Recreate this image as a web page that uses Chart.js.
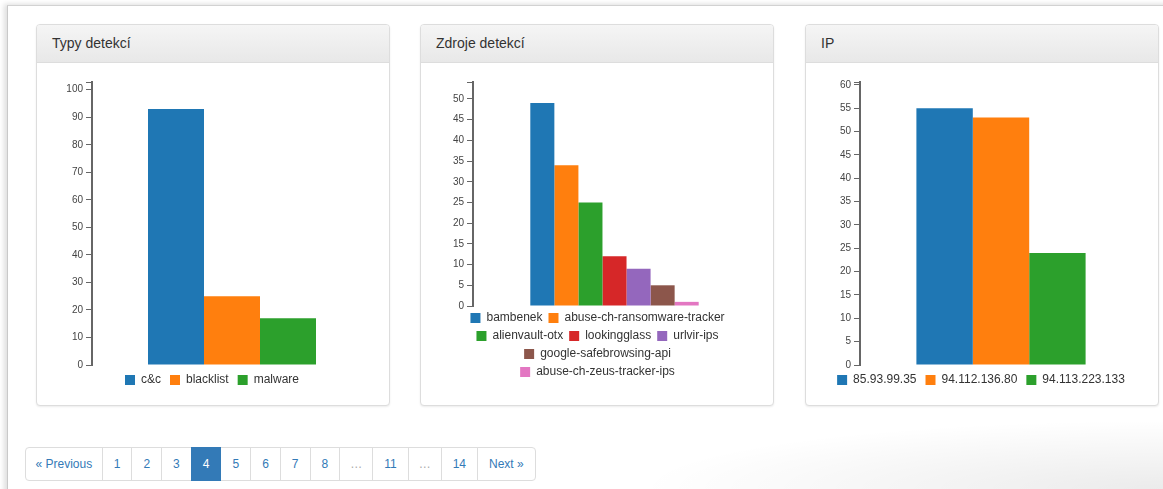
<!DOCTYPE html>
<html lang="cs">
<head>
<meta charset="utf-8">
<title>Detekce</title>
<script src="https://cdn.jsdelivr.net/npm/chart.js@4/dist/chart.umd.min.js"></script>
<style>
  html, body { margin: 0; padding: 0; background: #fff; width: 1163px; height: 489px; overflow: hidden;
    font-family: "Liberation Sans", Arial, Helvetica, sans-serif; }
  .frame { position: absolute; left: 7px; top: 5px; width: 1200px; height: 520px;
    border-left: 1px solid #c9c9c9; border-top: 1px solid #d2d2d2;
    box-shadow: -3px -1px 5px rgba(0,0,0,0.13); background: #fff; }
  .shade { position: absolute; left: 0; top: 420px; width: 1163px; height: 69px;
    background: radial-gradient(ellipse 45% 100% at 100% 100%, rgba(0,0,0,0.08), rgba(0,0,0,0)); }
  .panel { position: absolute; top: 24px; width: 352px; border: 1px solid #ddd; border-radius: 4px;
    background: #fff; box-shadow: 0 1px 2px rgba(0,0,0,.08); }
  .panel-heading { height: 37px; line-height: 37px; padding: 0 15px; font-size: 14px; color: #333;
    border-bottom: 1px solid #ddd; border-radius: 3px 3px 0 0;
    background: linear-gradient(#f5f5f5, #e8e8e8); }
  .panel-body { position: relative; width: 352px; height: 342px; }
  .panel-body canvas { display: block; }
  .pagination { position: absolute; left: 25px; top: 447px; margin: 0; padding: 0; list-style: none; display: flex; }
  .pagination li a, .pagination li span { display: block; padding: 6px 11px; line-height: 20px; font-size: 12px;
    color: #337ab7; border: 1px solid #ddd; margin-left: -1px; background: #fff; text-decoration: none; position: relative; }
  .pagination li:first-child a { margin-left: 0; border-radius: 4px 0 0 4px; padding: 6px 9.5px; }
  .pagination li:last-child a { border-radius: 0 4px 4px 0; }
  .pagination li.active span { background: #337ab7; border-color: #337ab7; color: #fff; z-index: 2; }
  .pagination li.disabled span { color: #aaa; padding: 6px 10px; }
</style>
</head>
<body>
<div class="frame"></div>
<div class="shade"></div>

<div class="panel" style="left:36px">
  <div class="panel-heading">Typy detekcí</div>
  <div class="panel-body"><canvas id="typy" width="352" height="342"></canvas></div>
</div>
<div class="panel" style="left:420px">
  <div class="panel-heading">Zdroje detekcí</div>
  <div class="panel-body"><canvas id="zdroje" width="352" height="342"></canvas></div>
</div>
<div class="panel" style="left:805px">
  <div class="panel-heading">IP</div>
  <div class="panel-body"><canvas id="ip" width="352" height="342"></canvas></div>
</div>

<ul class="pagination">
  <li><a href="#">« Previous</a></li>
  <li><a href="#">1</a></li>
  <li><a href="#">2</a></li>
  <li><a href="#">3</a></li>
  <li class="active"><span>4</span></li>
  <li><a href="#">5</a></li>
  <li><a href="#">6</a></li>
  <li><a href="#">7</a></li>
  <li><a href="#">8</a></li>
  <li class="disabled"><span>…</span></li>
  <li><a href="#">11</a></li>
  <li class="disabled"><span>…</span></li>
  <li><a href="#">14</a></li>
  <li><a href="#">Next »</a></li>
</ul>

<script>
// d3 category10 colours, one per bar
const palette = ['#1f77b4', '#ff7f0e', '#2ca02c', '#d62728', '#9467bd', '#8c564b', '#e377c2'];

// Typy detekcí
const typyLabels = ['c&c', 'blacklist', 'malware'];
const typyValues = [93, 25, 17];
const typyTicks = [0, 10, 20, 30, 40, 50, 60, 70, 80, 90, 100];
const typyTop = 102.8;

// Zdroje detekcí
const zdrojeLabels = ['bambenek', 'abuse-ch-ransomware-tracker', 'alienvault-otx', 'lookingglass',
  'urlvir-ips', 'google-safebrowsing-api', 'abuse-ch-zeus-tracker-ips'];
const zdrojeValues = [49, 34, 25, 12, 9, 5, 1];
const zdrojeTicks = [0, 5, 10, 15, 20, 25, 30, 35, 40, 45, 50];
const zdrojeTop = 54.1;

// IP
const ipLabels = ['85.93.99.35', '94.112.136.80', '94.113.223.133'];
const ipValues = [55, 53, 24];
const ipTicks = [0, 5, 10, 15, 20, 25, 30, 35, 40, 45, 50, 55, 60];
const ipTop = 60.6;

Chart.defaults.font.family = '"Liberation Sans", Arial, Helvetica, sans-serif';

function barChart(id, labels, values, ticks, top, box) {
  return new Chart(document.getElementById(id), {
    type: 'bar',
    data: {
      labels: [''],
      datasets: labels.map((name, i) => ({
        label: name,
        data: [values[i]],
        backgroundColor: palette[i],
        borderWidth: 0,
        barPercentage: 1,
        categoryPercentage: box.group
      }))
    },
    options: {
      responsive: false,
      animation: false,
      events: [],
      layout: { padding: { left: box.left, right: box.right, top: box.top, bottom: box.bottom } },
      plugins: {
        tooltip: { enabled: false },
        legend: {
          position: 'bottom',
          labels: { boxWidth: 10, boxHeight: 10, padding: box.gap, color: '#333', font: { size: 12 } }
        }
      },
      scales: {
        x: { display: false },
        y: {
          min: 0,
          max: top,
          // round ticks plus an unlabelled outer tick at the top of the domain
          afterBuildTicks: s => { s.ticks = ticks.concat([top]).map(v => ({ value: v })); },
          afterFit: s => { s.width = box.axis; },
          ticks: {
            autoSkip: false, padding: 3, color: '#444', font: { size: 10 },
            callback: v => ticks.includes(v) ? String(v) : ''
          },
          grid: { drawOnChartArea: false, drawTicks: true, tickLength: 6, color: '#666', lineWidth: 1 },
          border: { display: true, color: '#666', width: 2 }
        }
      }
    }
  });
}

barChart('typy', typyLabels, typyValues, typyTicks, typyTop,
  { left: 15, axis: 40, right: 17, top: 19, bottom: 9, gap: 9, group: 0.6 });
barChart('zdroje', zdrojeLabels, zdrojeValues, zdrojeTicks, zdrojeTop,
  { left: 18, axis: 34, right: 17, top: 19, bottom: 17, gap: 6, group: 0.595 });
barChart('ip', ipLabels, ipValues, ipTicks, ipTop,
  { left: 14, axis: 40, right: 16, top: 19, bottom: 9, gap: 9, group: 0.6 });
</script>
</body>
</html>
